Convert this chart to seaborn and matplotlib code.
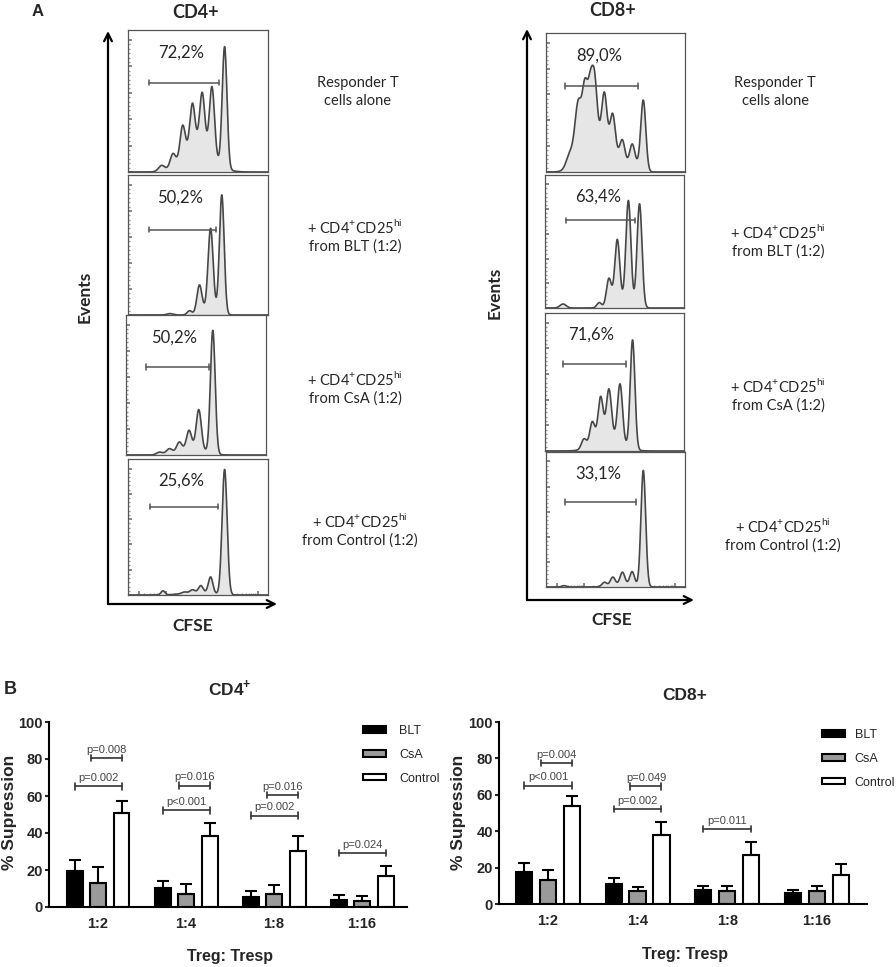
import numpy as np
import pandas as pd
import matplotlib
matplotlib.use("Agg")
import matplotlib.pyplot as plt
import seaborn as sns
from matplotlib.patches import Rectangle

# ---------------- data ----------------
# panel A: CFSE histograms, peaks as (position, height, width) in box units
cd4_alone_peaks = [(0.24, 0.04, 0.022), (0.32, 0.09, 0.019), (0.39, 0.22, 0.018), (0.46, 0.30, 0.018),
                   (0.53, 0.37, 0.018), (0.60, 0.48, 0.018), (0.69, 0.85, 0.017), (0.50, 0.20, 0.10)]
cd4_blt_peaks = [(0.30, 0.01, 0.022), (0.44, 0.03, 0.017), (0.51, 0.20, 0.018), (0.59, 0.58, 0.018),
                 (0.67, 0.85, 0.017), (0.58, 0.04, 0.05)]
cd4_csa_peaks = [(0.24, 0.02, 0.022), (0.31, 0.04, 0.022), (0.38, 0.07, 0.019), (0.45, 0.13, 0.018),
                 (0.52, 0.28, 0.018), (0.62, 0.88, 0.017), (0.48, 0.05, 0.08)]
cd4_ctrl_peaks = [(0.25, 0.03, 0.014), (0.40, 0.01, 0.017), (0.46, 0.02, 0.017), (0.52, 0.05, 0.016),
                  (0.59, 0.12, 0.016), (0.69, 0.92, 0.018), (0.50, 0.02, 0.10)]
cd8_alone_peaks = [(0.17, 0.08, 0.025), (0.23, 0.30, 0.022), (0.28, 0.30, 0.018), (0.32, 0.28, 0.017),
                   (0.35, 0.33, 0.017), (0.42, 0.34, 0.018), (0.48, 0.25, 0.018), (0.55, 0.15, 0.018),
                   (0.62, 0.14, 0.018), (0.70, 0.50, 0.018), (0.30, 0.33, 0.07), (0.45, 0.17, 0.08),
                   (0.64, 0.05, 0.04)]
cd8_blt_peaks = [(0.13, 0.03, 0.022), (0.39, 0.04, 0.017), (0.46, 0.21, 0.018), (0.52, 0.48, 0.018),
                 (0.60, 0.78, 0.018), (0.68, 0.78, 0.018), (0.55, 0.04, 0.06)]
cd8_csa_peaks = [(0.28, 0.07, 0.018), (0.34, 0.16, 0.018), (0.40, 0.30, 0.018), (0.46, 0.34, 0.018),
                 (0.54, 0.42, 0.018), (0.63, 0.79, 0.017), (0.45, 0.11, 0.09)]
cd8_ctrl_peaks = [(0.13, 0.01, 0.017), (0.42, 0.03, 0.017), (0.48, 0.06, 0.017), (0.55, 0.09, 0.017),
                  (0.62, 0.10, 0.017), (0.70, 0.86, 0.017), (0.55, 0.02, 0.08)]

cd4_gates = [(0.15, 0.65, 0.63), (0.15, 0.63, 0.61), (0.14, 0.59, 0.63), (0.16, 0.64, 0.65)]
cd8_gates = [(0.14, 0.66, 0.62), (0.15, 0.65, 0.66), (0.13, 0.58, 0.63), (0.14, 0.65, 0.63)]
cd4_pct = ["72,2%", "50,2%", "50,2%", "25,6%"]
cd8_pct = ["89,0%", "63,4%", "71,6%", "33,1%"]
conditions = ["Responder T\ncells alone",
              "+ CD4$^{\\mathregular{+}}$CD25$^{\\mathregular{hi}}$\nfrom BLT (1:2)",
              "+ CD4$^{\\mathregular{+}}$CD25$^{\\mathregular{hi}}$\nfrom CsA (1:2)",
              "+ CD4$^{\\mathregular{+}}$CD25$^{\\mathregular{hi}}$\nfrom Control (1:2)"]

# panel B: % suppression (mean, upper SEM)
ratios = ["1:2", "1:4", "1:8", "1:16"]
groups = ["BLT", "CsA", "Control"]
cd4_blt = [19.5, 10.5, 5.5, 4.0]
cd4_csa = [13.0, 7.0, 7.0, 3.0]
cd4_ctrl = [51.0, 38.5, 30.5, 16.5]
cd4_blt_err = [5.7, 3.7, 3.3, 2.5]
cd4_csa_err = [8.6, 5.4, 5.0, 2.8]
cd4_ctrl_err = [6.3, 6.7, 8.1, 5.8]
cd8_blt = [17.4, 11.0, 7.9, 5.9]
cd8_csa = [13.4, 7.0, 7.3, 7.0]
cd8_ctrl = [53.7, 38.1, 26.7, 16.1]
cd8_blt_err = [5.1, 3.1, 2.2, 1.6]
cd8_csa_err = [5.5, 2.3, 2.8, 3.1]
cd8_ctrl_err = [5.5, 6.9, 7.3, 5.9]
# (ratio index, bar from, bar to, height, label)
cd4_pvals = [(0, 0, 2, 65.2, "p=0.002"), (0, 1, 2, 80.5, "p=0.008"),
             (1, 0, 2, 52.3, "p<0.001"), (1, 1, 2, 65.6, "p=0.016"),
             (2, 0, 2, 49.4, "p=0.002"), (2, 1, 2, 60.5, "p=0.016"),
             (3, 0, 2, 29.2, "p=0.024")]
cd8_pvals = [(0, 0, 2, 65.0, "p<0.001"), (0, 1, 2, 77.5, "p=0.004"),
             (1, 0, 2, 52.2, "p=0.002"), (1, 1, 2, 64.6, "p=0.049"),
             (2, 0, 2, 41.2, "p=0.011")]

# ---------------- figure ----------------
sns.set_theme(style="white")
plt.rcParams['font.family'] = ['Liberation Sans', 'DejaVu Sans']
W, H = 896, 967
fig = plt.figure(figsize=(W / 100, H / 100), dpi=100)
AFONT = ['Lato', 'DejaVu Sans']


def add_ax(x0, y0, x1, y1):
    # pixel box (top-left origin) -> figure axes
    return fig.add_axes([x0 / W, 1 - y1 / H, (x1 - x0) / W, (y1 - y0) / H])


def hist_box(box, peaks, gate, pct, bottom=False):
    ax = add_ax(*box)
    xs = np.linspace(0, 1, 800)
    ys = np.zeros_like(xs)
    for p, h, s in peaks:
        ys += h * np.exp(-0.5 * ((xs - p) / s) ** 2)
    ax.fill_between(xs, ys, color='#e6e6e6', lw=0)
    sns.lineplot(x=xs, y=ys, ax=ax, color='#474747', lw=1.2)
    ax.set_xlim(0, 1)
    ax.set_ylim(0, 1)
    for sp in ax.spines.values():
        sp.set_color('#555555')
        sp.set_linewidth(0.9)
        sp.set_visible(True)
    ax.set_yticks(np.linspace(0, 0.93, 6))
    ax.set_yticks(np.linspace(0, 0.93, 31), minor=True)
    ax.tick_params(axis='y', which='major', direction='in', length=3, color='#777777', left=True, labelleft=False)
    ax.tick_params(axis='y', which='minor', direction='in', length=1.5, color='#999999', left=True)
    if bottom:
        ax.set_xticks([0.08, 0.27, 0.49, 0.71, 0.93])
        ax.set_xticks(np.concatenate([d + np.log10(np.arange(2, 10)) * 0.22 for d in [0.05, 0.27, 0.49, 0.71]]), minor=True)
        ax.tick_params(axis='x', which='major', direction='in', length=3, color='#777777', bottom=True, labelbottom=False)
        ax.tick_params(axis='x', which='minor', direction='in', length=1.5, color='#999999', bottom=True)
    else:
        ax.set_xticks([])
    x0, x1, gy = gate
    ax.plot([x0, x1], [gy, gy], color='#555555', lw=1.1)
    ax.plot([x0, x0], [gy - 0.02, gy + 0.02], color='#555555', lw=1.1)
    ax.plot([x1, x1], [gy - 0.02, gy + 0.02], color='#555555', lw=1.1)
    ax.text((x0 + x1) / 2 - 0.02, 0.84, pct, ha='center', va='center', fontsize=12, family=AFONT)
    ax.set_xlabel('')
    ax.set_ylabel('')
    return ax


cd4_boxes = [(128, 30, 268, 172), (128, 175, 268, 315), (126, 315, 266, 455), (128, 459, 268, 595)]
cd8_boxes = [(546, 33, 685, 172), (545, 175, 684, 308), (545, 313, 684, 451), (546, 452, 685, 587)]
cd4_all = [cd4_alone_peaks, cd4_blt_peaks, cd4_csa_peaks, cd4_ctrl_peaks]
cd8_all = [cd8_alone_peaks, cd8_blt_peaks, cd8_csa_peaks, cd8_ctrl_peaks]
for i in range(4):
    hist_box(cd4_boxes[i], cd4_all[i], cd4_gates[i], cd4_pct[i], bottom=(i == 3))
    hist_box(cd8_boxes[i], cd8_all[i], cd8_gates[i], cd8_pct[i], bottom=(i == 3))

# ---------------- panel B ----------------
colors = {"BLT": "black", "CsA": "#9a9a9a", "Control": "white"}


def bar_panel(box, xlim, blt, csa, ctrl, errs, pvals):
    ax = add_ax(*box)
    df = pd.DataFrame({
        "ratio": ratios * 3,
        "group": [g for g in groups for _ in ratios],
        "value": blt + csa + ctrl,
    })
    sns.barplot(data=df, x="ratio", y="value", hue="group", order=ratios, hue_order=groups,
                palette=colors, saturation=1, width=0.8, gap=0.32, edgecolor="black",
                linewidth=1.5, errorbar=None, legend=False, ax=ax)
    step = 0.8 / 3
    for j, (vals, err) in enumerate(zip([blt, csa, ctrl], errs)):
        xpos = np.arange(4) + (j - 1) * step
        ax.errorbar(xpos, vals, yerr=[np.zeros(4), err], fmt='none', ecolor='black',
                    elinewidth=1.5, capsize=4, capthick=1.5, zorder=1)
    for gi, a, b, y, lab in pvals:
        # BLT/Control brackets end on the bar centres, CsA ones start at its left edge
        xa = gi + (a - 1) * step - (0.08 if a == 1 else 0)
        xb = gi + (b - 1) * step
        ax.plot([xa, xb], [y, y], color='#333333', lw=1.2, clip_on=False)
        for xx in (xa, xb):
            ax.plot([xx, xx], [y - 1.8, y + 1.8], color='#333333', lw=1.2, clip_on=False)
        ax.text((xa + xb) / 2, y + 1.8, lab, ha='center', va='bottom', fontsize=8, color='#444444')
    ax.set_xlim(*xlim)
    ax.set_ylim(0, 100)
    ax.set_yticks(range(0, 101, 20))
    sns.despine(ax=ax)
    ax.spines['left'].set_linewidth(1.5)
    ax.spines['bottom'].set_linewidth(1.5)
    ax.spines['left'].set_color('black')
    ax.spines['bottom'].set_color('black')
    ax.tick_params(axis='y', direction='out', length=3, width=1.5, pad=1.5, left=True, labelsize=10.5)
    ax.tick_params(axis='x', length=0, pad=7, labelsize=10.5)
    for t in ax.get_xticklabels() + ax.get_yticklabels():
        t.set_fontweight('bold')
    ax.set_xlabel('')
    ax.set_ylabel('')
    return ax


def legend_at(ax, x, y, pad):
    handles = [Rectangle((0, 0), 1, 1, facecolor=colors[g], edgecolor='black', lw=1.5) for g in groups]
    ax.legend(handles, groups, loc='upper left', bbox_to_anchor=(x / W, 1 - y / H),
              bbox_transform=fig.transFigure, frameon=False, fontsize=9, handlelength=1.8,
              handleheight=0.4, handletextpad=pad, labelspacing=0.95, borderpad=0, borderaxespad=0)


ax4 = bar_panel((49, 722, 407, 907), (-0.557, 3.51), cd4_blt, cd4_csa, cd4_ctrl,
                [cd4_blt_err, cd4_csa_err, cd4_ctrl_err], cd4_pvals)
legend_at(ax4, 363, 725, 1.1)
ax8 = bar_panel((499, 722, 867, 904), (-0.546, 3.56), cd8_blt, cd8_csa, cd8_ctrl,
                [cd8_blt_err, cd8_csa_err, cd8_ctrl_err], cd8_pvals)
legend_at(ax8, 822, 729, 0.8)

# ---------------- overlay: arrows and free text ----------------
ov = fig.add_axes([0, 0, 1, 1], zorder=10)
ov.set_xlim(0, W)
ov.set_ylim(H, 0)
ov.axis('off')
arrow = dict(arrowstyle='->', lw=1.6, color='black', shrinkA=0, shrinkB=0, mutation_scale=14)
ov.annotate('', xy=(108, 31), xytext=(108, 604), arrowprops=arrow)
ov.annotate('', xy=(277, 604), xytext=(108, 604), arrowprops=arrow)
ov.annotate('', xy=(527, 29), xytext=(527, 600), arrowprops=arrow)
ov.annotate('', xy=(694, 600), xytext=(527, 600), arrowprops=arrow)

ov.text(38, 12, "A", ha='center', va='center', fontsize=12, fontweight='bold')
ov.text(10, 690, "B", ha='center', va='center', fontsize=13, fontweight='bold')
ov.text(196, 12, "CD4+", ha='center', va='center', fontsize=13, fontweight='bold', family=AFONT)
ov.text(613, 10, "CD8+", ha='center', va='center', fontsize=13, fontweight='bold', family=AFONT)
ov.text(85, 297, "Events", ha='center', va='center', rotation=90, fontsize=12.5, fontweight='bold', family=AFONT)
ov.text(495, 293, "Events", ha='center', va='center', rotation=90, fontsize=12.5, fontweight='bold', family=AFONT)
ov.text(193, 626, "CFSE", ha='center', va='center', fontsize=12.5, fontweight='bold', family=AFONT)
ov.text(612, 620, "CFSE", ha='center', va='center', fontsize=12.5, fontweight='bold', family=AFONT)

cd4_text_xy = [(358, 92), (355, 236), (355, 388), (360, 530)]
cd8_text_xy = [(775, 92), (778, 241), (778, 395), (783, 535)]
for (x, y), t in zip(cd4_text_xy, conditions):
    ov.text(x, y, t, ha='center', va='center', fontsize=10.5, family=AFONT, linespacing=1.35)
for (x, y), t in zip(cd8_text_xy, conditions):
    ov.text(x, y, t, ha='center', va='center', fontsize=10.5, family=AFONT, linespacing=1.35)

ov.text(230, 688, "CD4$^{\\mathregular{+}}$", ha='center', va='center', fontsize=12.5, fontweight='bold')
ov.text(685, 695, "CD8+", ha='center', va='center', fontsize=12.5, fontweight='bold')
ov.text(10, 812, "% Supression", ha='center', va='center', rotation=90, fontsize=12.5, fontweight='bold')
ov.text(458, 812, "% Supression", ha='center', va='center', rotation=90, fontsize=12.5, fontweight='bold')
ov.text(230, 957, "Treg: Tresp", ha='center', va='center', fontsize=11.5, fontweight='bold')
ov.text(685, 955, "Treg: Tresp", ha='center', va='center', fontsize=11.5, fontweight='bold')

fig.savefig("out.png", dpi=100)
